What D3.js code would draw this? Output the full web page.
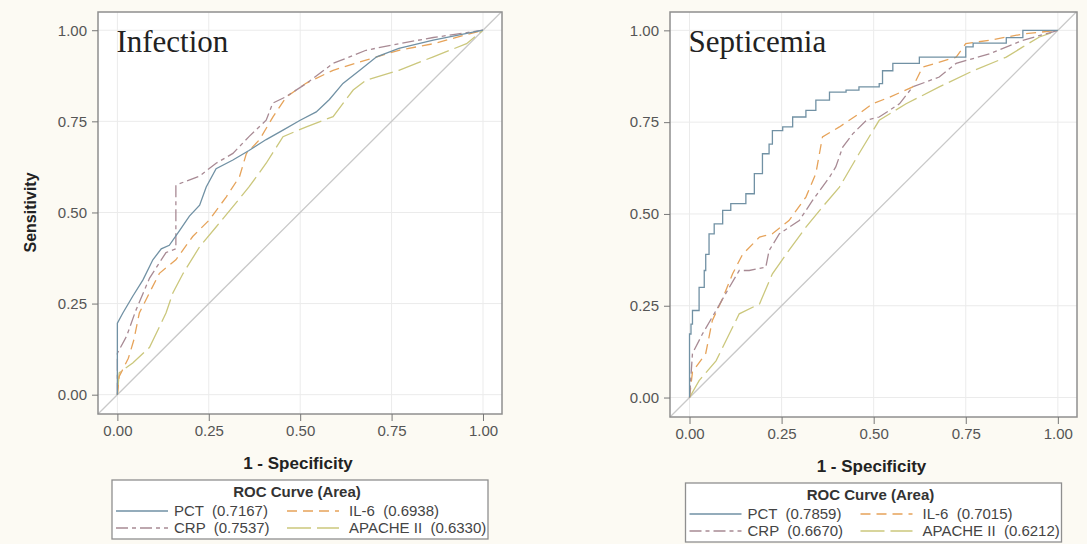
<!DOCTYPE html>
<html>
<head>
<meta charset="utf-8" />
<title>ROC curves</title>
<script src="https://cdn.jsdelivr.net/npm/d3@7"></script>
<style>
  body { margin: 0; background: #fcfaf3; }
  svg { display: block; }
  .tick text { font-family: Arial, "Liberation Sans", sans-serif; font-size: 15px; fill: #555; }
  .tick line { stroke: #777; }
  .lbl { font-family: Arial, "Liberation Sans", sans-serif; font-weight: bold; font-size: 17px; fill: #222; }
  .ylbl { font-size: 16px; }
  .ttl { font-family: "Times New Roman", "Liberation Serif", serif; font-size: 31px; fill: #222; }
  .leg { font-family: Arial, "Liberation Sans", sans-serif; font-size: 15px; fill: #444; white-space: pre; }
  .legt { font-family: Arial, "Liberation Sans", sans-serif; font-size: 15px; font-weight: bold; fill: #333; }
</style>
</head>
<body>
<svg id="chart" width="1087" height="544"></svg>
<script>
// ticks shared by both panels
var ticks = [0, 0.25, 0.5, 0.75, 1];
var markers = ["PCT", "CRP", "IL-6", "APACHE II"];

// Infection panel, [1 - specificity, sensitivity]
var infPCT = [[0,0],[0,0.196],[0.015,0.224],[0.042,0.27],[0.07,0.315],[0.097,0.37],[0.12,0.40],[0.142,0.41],[0.17,0.45],[0.197,0.49],[0.225,0.52],[0.243,0.57],[0.27,0.62],[0.316,0.644],[0.36,0.67],[0.407,0.70],[0.453,0.726],[0.50,0.753],[0.544,0.776],[0.58,0.81],[0.617,0.854],[0.663,0.89],[0.709,0.927],[0.77,0.95],[0.864,0.973],[1,1]];
var infCRP = [[0,0],[0,0.114],[0.025,0.16],[0.05,0.23],[0.088,0.32],[0.133,0.39],[0.16,0.40],[0.16,0.575],[0.225,0.60],[0.27,0.635],[0.316,0.662],[0.36,0.708],[0.407,0.753],[0.425,0.80],[0.46,0.817],[0.517,0.854],[0.59,0.909],[0.68,0.945],[0.77,0.963],[0.864,0.98],[1,1]];
var infIL6 = [[0,0],[0.005,0.05],[0.03,0.10],[0.045,0.15],[0.06,0.224],[0.088,0.28],[0.115,0.333],[0.16,0.37],[0.206,0.434],[0.252,0.48],[0.298,0.543],[0.334,0.598],[0.353,0.662],[0.389,0.70],[0.426,0.763],[0.462,0.817],[0.517,0.855],[0.59,0.89],[0.68,0.918],[0.77,0.945],[0.864,0.963],[1,1]];
var infAPA = [[0,0],[0.005,0.06],[0.042,0.087],[0.088,0.13],[0.133,0.224],[0.152,0.28],[0.18,0.333],[0.225,0.406],[0.27,0.46],[0.316,0.516],[0.36,0.57],[0.407,0.635],[0.453,0.708],[0.517,0.735],[0.59,0.763],[0.645,0.836],[0.68,0.863],[0.77,0.89],[0.864,0.927],[0.955,0.963],[1,1]];
var infAUC = ["0.7167", "0.7537", "0.6938", "0.6330"];

// Septicemia panel
var sepPCT = [[0,0],[0.004,0.173],[0.008,0.2],[0.026,0.237],[0.04,0.30],[0.044,0.346],[0.053,0.39],[0.067,0.446],[0.09,0.473],[0.112,0.51],[0.153,0.528],[0.176,0.555],[0.198,0.61],[0.216,0.664],[0.225,0.69],[0.253,0.727],[0.28,0.737],[0.316,0.764],[0.343,0.782],[0.38,0.81],[0.425,0.832],[0.46,0.837],[0.515,0.846],[0.524,0.855],[0.552,0.89],[0.57,0.91],[0.624,0.91],[0.678,0.927],[0.75,0.927],[0.77,0.955],[0.86,0.965],[0.905,0.98],[1,1]];
var sepCRP = [[0,0],[0.008,0.12],[0.035,0.173],[0.072,0.237],[0.108,0.30],[0.135,0.346],[0.162,0.346],[0.207,0.355],[0.216,0.40],[0.244,0.446],[0.298,0.482],[0.334,0.537],[0.38,0.60],[0.397,0.628],[0.416,0.682],[0.443,0.718],[0.48,0.755],[0.515,0.764],[0.57,0.80],[0.606,0.846],[0.678,0.873],[0.724,0.91],[0.814,0.936],[0.905,0.973],[1,1]];
var sepIL6 = [[0,0],[0.008,0.07],[0.044,0.12],[0.062,0.21],[0.09,0.27],[0.117,0.337],[0.144,0.39],[0.19,0.437],[0.225,0.446],[0.27,0.482],[0.316,0.546],[0.343,0.61],[0.361,0.71],[0.407,0.737],[0.46,0.773],[0.497,0.80],[0.543,0.818],[0.606,0.846],[0.633,0.90],[0.724,0.927],[0.75,0.964],[0.814,0.973],[0.905,0.99],[1,1]];
var sepAPA = [[0,0],[0.026,0.046],[0.072,0.10],[0.135,0.228],[0.19,0.255],[0.225,0.337],[0.262,0.39],[0.316,0.464],[0.361,0.519],[0.407,0.573],[0.46,0.664],[0.515,0.755],[0.588,0.80],[0.678,0.846],[0.77,0.89],[0.86,0.927],[0.905,0.955],[0.95,0.982],[1,1]];
var sepAUC = ["0.7859", "0.6670", "0.7015", "0.6212"];

var colors = ["#7191a4", "#a88a94", "#e6a35a", "#cbc77c"];
var dashes = [null, "12,4,4,4", "10,6", "24,6"];

var svg = d3.select("#chart");

function panel(cfg) {
  var x = d3.scaleLinear().domain([-0.053, 1.052]).range([cfg.left, cfg.right]);
  var y = d3.scaleLinear().domain([-0.053, 1.05]).range([cfg.bottom, cfg.top]);
  var g = svg.append("g");

  g.append("rect")
    .attr("x", cfg.left).attr("y", cfg.top)
    .attr("width", cfg.right - cfg.left).attr("height", cfg.bottom - cfg.top)
    .attr("fill", "#fff");

  // grid
  g.selectAll("line.gx").data(ticks).enter().append("line")
    .attr("x1", function(d) { return x(d); }).attr("x2", function(d) { return x(d); })
    .attr("y1", cfg.top).attr("y2", cfg.bottom)
    .attr("stroke", "#ebebeb");
  g.selectAll("line.gy").data(ticks).enter().append("line")
    .attr("y1", function(d) { return y(d); }).attr("y2", function(d) { return y(d); })
    .attr("x1", cfg.left).attr("x2", cfg.right)
    .attr("stroke", "#ebebeb");

  // reference diagonal
  g.append("line")
    .attr("x1", x(-0.053)).attr("y1", y(-0.053))
    .attr("x2", x(1.05)).attr("y2", y(1.05))
    .attr("stroke", "#c9c9c9").attr("stroke-width", 1.3);

  // draw APACHE first so PCT ends on top
  [3, 2, 1, 0].forEach(function(i) {
    var line = d3.line()
      .curve(i === 0 && cfg.stepPCT ? d3.curveStepBefore : d3.curveLinear)
      .x(function(d) { return x(d[0]); })
      .y(function(d) { return y(d[1]); });
    g.append("path")
      .datum(cfg.series[i])
      .attr("d", line)
      .attr("fill", "none")
      .attr("stroke", colors[i])
      .attr("stroke-width", 1.3)
      .attr("stroke-dasharray", dashes[i]);
  });

  g.append("rect")
    .attr("x", cfg.left).attr("y", cfg.top)
    .attr("width", cfg.right - cfg.left).attr("height", cfg.bottom - cfg.top)
    .attr("fill", "none").attr("stroke", "#8f8f8f").attr("stroke-width", 1.5);

  var ax = g.append("g")
    .attr("transform", "translate(0," + cfg.bottom + ")")
    .call(d3.axisBottom(x).tickValues(ticks).tickFormat(d3.format(".2f")).tickSize(7).tickPadding(4));
  ax.select(".domain").remove();
  var ay = g.append("g")
    .attr("transform", "translate(" + cfg.left + ",0)")
    .call(d3.axisLeft(y).tickValues(ticks).tickFormat(d3.format(".2f")).tickSize(6).tickPadding(5));
  ay.select(".domain").remove();

  g.append("text").attr("class", "ttl")
    .attr("x", x(0) - 1).attr("y", y(0.94))
    .text(cfg.title);

  var cx = (cfg.left + cfg.right) / 2;
  g.append("text").attr("class", "lbl")
    .attr("x", cx - 2).attr("y", cfg.bottom + 55)
    .attr("text-anchor", "middle")
    .text("1 - Specificity");

  if (cfg.ylabel) {
    g.append("text").attr("class", "lbl ylbl")
      .attr("transform", "translate(36," + y(0.5) + ") rotate(-90)")
      .attr("text-anchor", "middle")
      .text("Sensitivity");
  }

  // legend
  var lw = 376, lh = 59;
  var lx = cx - lw / 2, ly = cfg.bottom + 66;
  var lg = g.append("g").attr("transform", "translate(" + lx + "," + ly + ")");
  lg.append("rect").attr("width", lw).attr("height", lh)
    .attr("fill", "#fff").attr("stroke", "#8f8f8f").attr("stroke-width", 1.3);
  lg.append("text").attr("class", "legt")
    .attr("x", lw / 2 - 3).attr("y", 17)
    .attr("text-anchor", "middle")
    .text("ROC Curve (Area)");

  // order in legend: PCT, IL-6 / CRP, APACHE II
  var order = [0, 2, 1, 3];
  var items = lg.selectAll("g.item").data(order).enter().append("g")
    .attr("transform", function(d, k) {
      return "translate(" + (k % 2 === 0 ? 4 : 175) + "," + (k < 2 ? 31 : 48) + ")";
    });
  items.append("line")
    .attr("x1", 0).attr("x2", 52).attr("y1", 0).attr("y2", 0)
    .attr("stroke", function(i) { return colors[i]; }).attr("stroke-width", 1.3)
    .attr("stroke-dasharray", function(i) { return dashes[i]; });
  items.append("text").attr("class", "leg")
    .attr("x", function(i, k) { return k % 2 === 0 ? 58 : 62; }).attr("y", 5)
    .text(function(i) { return markers[i] + "  (" + cfg.auc[i] + ")"; });
}

panel({
  left: 98, right: 502, top: 12, bottom: 414,
  title: "Infection", ylabel: true, stepPCT: false,
  series: [infPCT, infCRP, infIL6, infAPA], auc: infAUC
});
panel({
  left: 670, right: 1077, top: 12, bottom: 417,
  title: "Septicemia", ylabel: false, stepPCT: true,
  series: [sepPCT, sepCRP, sepIL6, sepAPA], auc: sepAUC
});
</script>
</body>
</html>
